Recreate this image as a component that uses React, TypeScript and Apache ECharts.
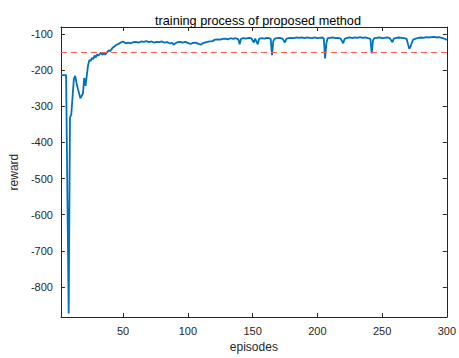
import React, { useEffect, useRef } from "react";
import * as echarts from "echarts";

const episodes = [
  2, 4, 6, 8, 9, 10, 12, 13, 14, 15, 17, 19, 20, 21, 23, 24, 25, 26, 27, 28, 29, 30, 31, 33, 34, 35, 36, 38, 39, 40,
  42, 43, 45, 47, 48, 50, 52, 54, 56, 58, 60, 62, 64, 66, 68, 70, 72, 74, 76, 78, 80, 82, 84, 86, 88, 89, 90, 92, 94,
  96, 98, 100, 102, 104, 106, 108, 110, 111, 113, 115, 117, 119, 121, 123, 125, 127, 129, 131, 133, 135, 137, 139, 140,
  141, 143, 145, 147, 149, 151, 152, 154, 155, 157, 159, 161, 163, 164, 165, 166, 167, 169, 171, 173, 175, 176, 178,
  180, 182, 184, 186, 188, 190, 192, 194, 196, 198, 200, 202, 204, 205, 206, 207, 208, 210, 212, 214, 216, 218, 220,
  221, 223, 225, 227, 229, 231, 233, 235, 237, 239, 241, 242, 243, 244, 246, 248, 250, 252, 254, 256, 258, 259, 261,
  263, 265, 267, 269, 270, 271, 272, 273, 274, 276, 278, 280, 282, 284, 286, 288, 290, 292, 294, 296, 298, 300,
];

const rewards = [
  -214, -214, -214, -873, -331, -323, -225, -216, -235, -250, -278, -265, -222, -244, -186, -172, -175, -166, -170,
  -160, -165, -157, -160, -152, -158, -154, -157, -150, -145, -148, -138, -136, -130, -127, -124, -121, -126, -124,
  -126, -123, -122, -124, -121, -122, -120, -123, -121, -124, -122, -123, -121, -124, -123, -126, -125, -130, -127,
  -123, -122, -124, -122, -125, -128, -125, -124, -127, -130, -127, -124, -122, -121, -120, -116, -115, -116, -114,
  -113, -115, -112, -114, -112, -115, -129, -114, -112, -113, -111, -112, -124, -113, -129, -114, -112, -113, -111,
  -112, -114, -159, -120, -113, -112, -111, -113, -124, -114, -112, -111, -112, -110, -111, -110, -112, -110, -111,
  -112, -110, -112, -111, -110, -113, -168, -125, -112, -111, -110, -112, -111, -113, -126, -114, -111, -110, -112,
  -110, -111, -109, -111, -110, -112, -114, -154, -118, -112, -111, -110, -112, -111, -110, -112, -123, -113, -111,
  -110, -111, -112, -114, -128, -141, -135, -124, -116, -113, -111, -110, -111, -109, -110, -109, -108, -110, -109,
  -111, -113, -117,
];

const xTicks = [50, 100, 150, 200, 250, 300];
const yTicks = [-800, -700, -600, -500, -400, -300, -200, -100];
const threshold = -150;
const xRange = [2, 300];
const yRange = [-883, -81];

const FONT = "'Liberation Sans', Arial, Helvetica, sans-serif";
const INK = "#262626";

export default function App() {
  const ref = useRef<HTMLDivElement>(null);
  useEffect(() => {
    const chart = echarts.init(ref.current!, null, { renderer: "svg" });
    const axisLine = { show: true, onZero: false, lineStyle: { color: INK, width: 1 } };
    chart.setOption({
      animation: false,
      backgroundColor: "#ffffff",
      title: {
        text: "training process of proposed method",
        left: 253,
        textAlign: "center",
        top: 9,
        textStyle: { fontFamily: FONT, fontSize: 12.7, fontWeight: "normal", color: "#000" },
      },
      grid: { left: 53, right: 7, top: 27, bottom: 34, containLabel: false },
      xAxis: [
        {
          type: "value",
          min: xRange[0],
          max: xRange[1],
          position: "bottom",
          axisLine,
          axisTick: { show: true, inside: true, length: 4, customValues: xTicks, lineStyle: { color: INK } },
          axisLabel: { customValues: xTicks, color: INK, fontSize: 11, fontFamily: FONT, margin: 8 },
          splitLine: { show: false },
          name: "episodes",
          nameLocation: "middle",
          nameGap: 21,
          nameTextStyle: { fontFamily: FONT, fontSize: 12, color: INK },
        },
        {
          type: "value",
          min: xRange[0],
          max: xRange[1],
          position: "top",
          axisLine,
          axisTick: { show: true, inside: true, length: 4, customValues: xTicks, lineStyle: { color: INK } },
          axisLabel: { show: false },
          splitLine: { show: false },
        },
      ],
      yAxis: [
        {
          type: "value",
          min: yRange[0],
          max: yRange[1],
          position: "left",
          axisLine,
          axisTick: { show: true, inside: true, length: 4, customValues: yTicks, lineStyle: { color: INK } },
          axisLabel: { customValues: yTicks, color: INK, fontSize: 11, fontFamily: FONT, margin: 8 },
          splitLine: { show: false },
          name: "reward",
          nameLocation: "middle",
          nameGap: 34,
          nameTextStyle: { fontFamily: FONT, fontSize: 12, color: INK },
        },
        {
          type: "value",
          min: yRange[0],
          max: yRange[1],
          position: "right",
          axisLine,
          axisTick: { show: true, inside: true, length: 4, customValues: yTicks, lineStyle: { color: INK } },
          axisLabel: { show: false },
          splitLine: { show: false },
        },
      ],
      series: [
        {
          type: "line",
          xAxisIndex: 0,
          yAxisIndex: 0,
          data: episodes.map((e, i) => [e, rewards[i]]),
          showSymbol: false,
          symbol: "none",
          lineStyle: { color: "#0072BD", width: 1.8 },
          z: 3,
          markLine: {
            silent: true,
            symbol: ["none", "none"],
            label: { show: false },
            lineStyle: { color: "#ff5a5a", type: [6, 4], width: 1 },
            data: [{ yAxis: threshold }],
          },
        },
      ],
    });
    return () => chart.dispose();
  }, []);
  return <div ref={ref} style={{ position: "fixed", left: 0, top: 0, width: 459, height: 358 }} />;
}
